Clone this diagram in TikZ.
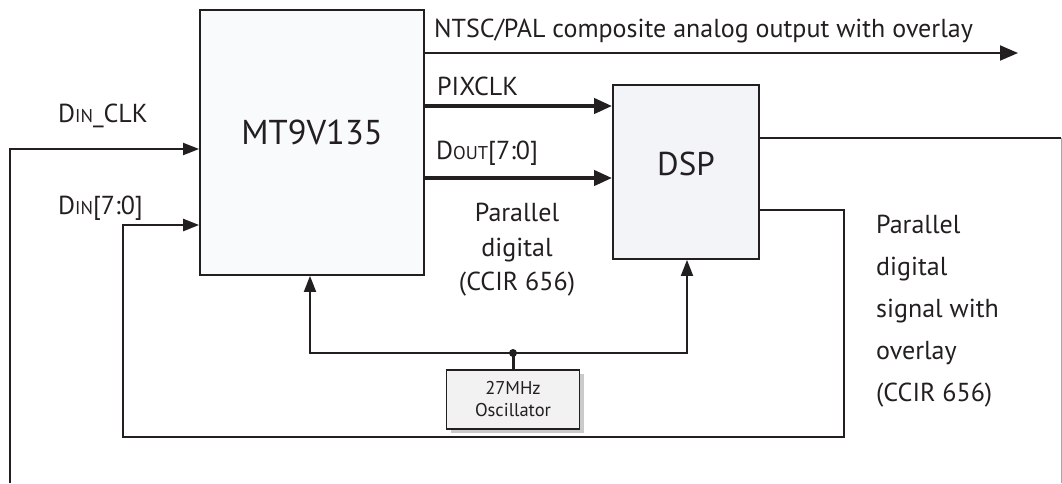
\documentclass[tikz,border=0pt]{standalone}
\usepackage{fontspec}
\setmainfont{PT Sans}
\usetikzlibrary{arrows.meta,shadows}

\definecolor{ink}{HTML}{231F20}
\definecolor{mtfill}{HTML}{F9FAFC}
\definecolor{dspfill}{HTML}{F3F4F8}
\definecolor{oscfill}{HTML}{F2F2F2}

\begin{document}
\begin{tikzpicture}[x=1pt,y=-1pt,
  block/.style={draw=ink, line width=1.8pt, fill=#1, inner sep=0pt},
  sig/.style={draw=ink, line width=2pt},
  bus/.style={draw=ink, line width=4pt},
  tip/.style={-{Triangle[length=16pt,width=12pt]}},
  bigtip/.style={-{Triangle[length=18pt,width=15pt]}},
  lbl/.style={font=\fontsize{26}{30}\selectfont, inner sep=0pt, text=ink}]
  \useasboundingbox (0,0) rectangle (1062,483);

  % blocks
  \node[block=mtfill, minimum width=224pt, minimum height=265pt,
    label={[lbl, font=\fontsize{34.5}{36}\selectfont, yshift=10pt]center:MT9V135}] (mt) at (312,142.5) {};
  \node[block=dspfill, minimum width=146pt, minimum height=174pt,
    label={[lbl, font=\fontsize{33}{36}\selectfont, yshift=8pt]center:DSP}] (dsp) at (686,172) {};
  \node[block=oscfill, line width=1.5pt, minimum width=133pt, minimum height=59pt,
    align=center, font=\fontsize{18.5}{22}\selectfont, text=ink,
    drop shadow={shadow xshift=4pt, shadow yshift=-4pt, opacity=0.35, fill=black!60}] (osc) at (513,399.5) {27MHz\\Oscillator};

  % free ends of the connectors
  \coordinate (ntscend) at (1018,53);
  \coordinate (outr) at (1061,138);
  \coordinate (loopr) at (844,210);
  \coordinate (loopl) at (123,437);
  \coordinate (clkin) at (10,483);
  \coordinate (jn) at (513,353);
  \coordinate (jl) at (310,353);
  \coordinate (jr) at (687,353);

  % outputs of the sensor
  \draw[sig, bigtip] (mt.east |- ntscend) -- (ntscend);
  \draw[bus, bigtip] (mt.east |- 0,106) -- (dsp.west |- 0,106);
  \draw[bus, bigtip] (mt.east |- 0,178) -- (dsp.west |- 0,178);

  % outputs of the dsp
  \draw[sig] (dsp.east |- outr) -- (outr);
  \draw[black!35, line width=1pt] (outr) -- (outr |- clkin);
  \draw[sig, line width=2.5pt, tip] (dsp.east |- loopr) -- (loopr) -- (loopr |- loopl)
    -- (loopl) -- (loopl |- 0,225) -- (mt.west |- 0,225);
  \draw[sig, tip] (clkin) -- (clkin |- 0,149) -- (mt.west |- 0,149);

  % oscillator
  \draw[sig, line width=3pt] (osc.north) -- (jn);
  \draw[sig, tip] (jn) -- (jl) -- (jl |- mt.south);
  \draw[sig, tip] (jn) -- (jr) -- (jr |- dsp.south);
  \fill[ink] (jn) circle (4pt);

  % labels
  \node[lbl, anchor=base west] (ntsc) at (434,37) {NTSC/PAL composite analog output with overlay};
  \node[lbl, anchor=base west] (pixclk) at (437,95) {PIXCLK};
  \node[lbl, anchor=base west] (dout) at (436,159) {D{\fontsize{18.5}{18}\selectfont OUT}[7:0]};
  \node[lbl, anchor=base west] (dinclk) at (58,122) {D{\fontsize{18.5}{18}\selectfont IN}\_CLK};
  \node[lbl, anchor=base west] (din) at (58,214) {D{\fontsize{18.5}{18}\selectfont IN}[7:0]};
  \node[lbl, align=center, anchor=north, font=\fontsize{26}{34.5}\selectfont] (par) at (517,203) {Parallel\\digital\\(CCIR 656)};
  \node[lbl, align=left, anchor=north west, font=\fontsize{26}{42}\selectfont] (parov) at (876,215) {Parallel\\digital\\signal with\\overlay\\(CCIR 656)};
\end{tikzpicture}
\end{document}
